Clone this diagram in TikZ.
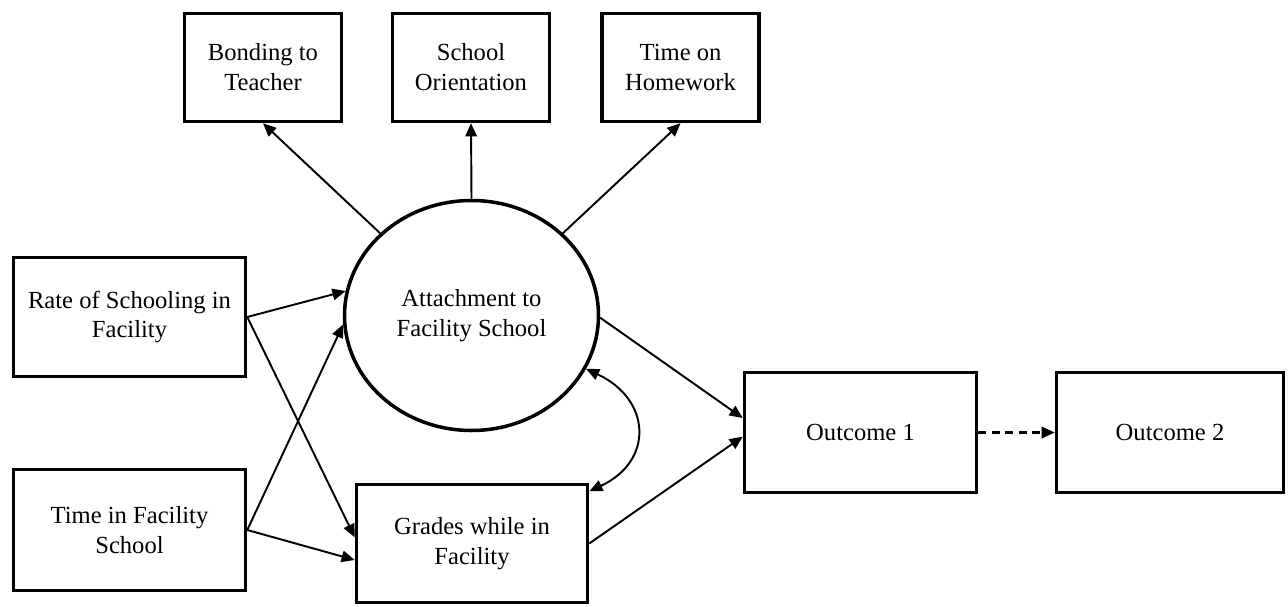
\documentclass[tikz,border=0pt]{standalone}
\usepackage{fontspec}
\setmainfont{Liberation Serif}
\usepackage{tikz}
\usetikzlibrary{shapes.geometric, arrows.meta}
\tikzstyle{observed} = [rectangle, line width=2pt, draw=black, align=center, font=\fontsize{14}{17}\selectfont]
\tikzstyle{latent} = [ellipse, minimum width=5.08cm, minimum height=4.6cm, line width=2pt, draw=black, align=center, font=\fontsize{14}{17}\selectfont]
\tikzstyle{arrow} = [line width=1.1pt,-{Triangle[length=7.5pt,width=6.5pt]}]
\tikzstyle{dasharrow} = [arrow, line width=1.3pt, dash pattern=on 4.5pt off 3.2pt]
\tikzstyle{covar} = [line width=1.1pt,{Triangle[length=7.5pt,width=6.5pt]}-{Triangle[length=7.5pt,width=6.5pt]}]

\begin{document}
\begin{tikzpicture}
        \useasboundingbox (0,0) rectangle (25.76,12.12);
        \node (bonding) [observed, minimum width=3.14cm, minimum height=2.16cm] at (5.26,10.77) {Bonding to\\Teacher};
        \node (orient) [observed, minimum width=3.14cm, minimum height=2.16cm] at (9.42,10.77) {School\\Orientation};
        \node (homework) [observed, minimum width=3.14cm, minimum height=2.16cm] at (13.61,10.77) {Time on\\Homework};
        \node (attach) [latent] at (9.43,5.81) {Attachment to\\Facility School};
        \node (rate) [observed, minimum width=4.64cm, minimum height=2.38cm] at (2.59,5.78) {Rate of Schooling in\\Facility};
        \node (timefac) [observed, minimum width=4.64cm, minimum height=2.42cm] at (2.59,1.52) {Time in Facility\\School};
        \node (grades) [observed, minimum width=4.62cm, minimum height=2.36cm] at (9.44,1.25) {Grades while in\\Facility};
        \node (out1) [observed, minimum width=4.64cm, minimum height=2.4cm] at (17.21,3.47) {Outcome 1};
        \node (out2) [observed, minimum width=4.54cm, minimum height=2.4cm] at (23.4,3.47) {Outcome 2};

        \draw [arrow] (attach.138) -- (bonding.south);
        \draw [arrow] (attach.north) -- (orient.south);
        \draw [arrow] (attach.42) -- (homework.south);

        \draw [arrow] (rate.east) -- (attach.169);
        \draw [arrow] (rate.east) -- (grades.177);
        \draw [arrow] (timefac.east) -- (attach.184);
        \draw [arrow] (timefac.east) -- (grades.188);

        \draw [arrow] (attach.-1) -- (out1.173);
        \draw [arrow] (grades.east) -- (out1.182);
        \draw [covar] (attach.-25) to[out=-25, in=25, looseness=1.5] (grades.24);
        \draw [dasharrow] (out1.east) -- (out2.west);
\end{tikzpicture}
\end{document}
